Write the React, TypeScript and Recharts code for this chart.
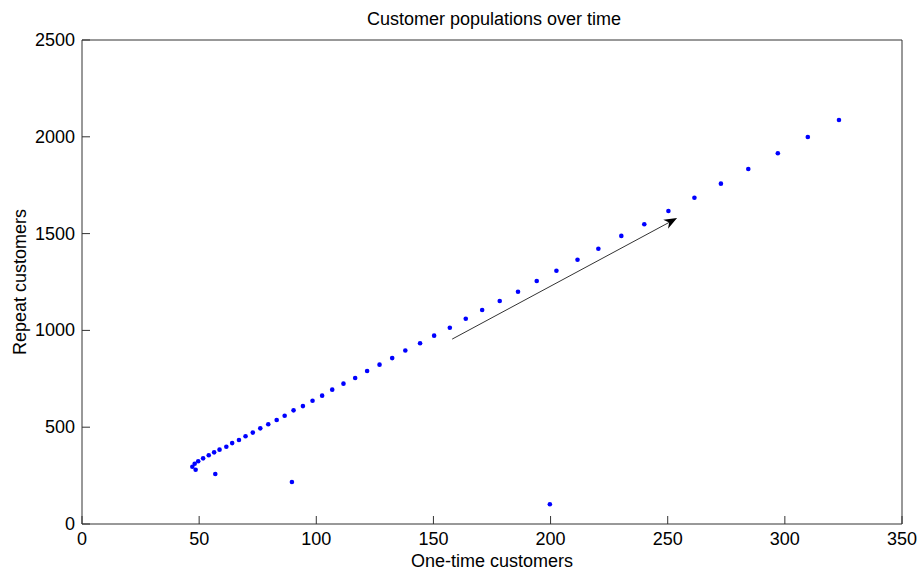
import React from 'react';
import { ScatterChart, Scatter, XAxis, YAxis, ReferenceLine } from 'recharts';

// one-time customers (x) and repeat customers (y)
const oneTime = [
    47.1, 48.1, 48.5, 49.6, 51.7, 54.1, 56.4, 58.7, 61.6, 64.1,
    67.0, 69.8, 72.9, 76.1, 79.5, 83.1, 86.5, 90.3, 94.3, 98.4,
    102.5, 106.8, 111.6, 116.6, 121.7, 127.0, 132.4, 138.0, 144.3, 150.3,
    157.0, 163.8, 170.8, 178.3, 186.1, 194.1, 202.5, 211.5, 220.4, 230.2,
    240.0, 250.3, 261.4, 272.7, 284.4, 297.0, 309.8, 323.1,
    56.9, 89.6, 199.7,
];
const repeat = [
    296, 311, 280, 324, 339, 355, 370, 384, 399, 418,
    434, 453, 472, 494, 515, 537, 559, 587, 609, 637,
    663, 694, 725, 754, 790, 823, 857, 896, 934, 973,
    1014, 1060, 1105, 1152, 1200, 1255, 1308, 1365, 1422, 1488,
    1548, 1617, 1685, 1758, 1834, 1915, 1999, 2087,
    258, 217, 102,
];
const xTicks = [0, 50, 100, 150, 200, 250, 300, 350];
const yTicks = [0, 500, 1000, 1500, 2000, 2500];
const arrowFrom = { x: 158, y: 955 };
const arrowTo = { x: 254, y: 1580 };

const points = oneTime.map((x, i) => ({ x, y: repeat[i] }));

const FONT = '"Liberation Sans", Arial, Helvetica, sans-serif';
const AXIS = '#333';
const TICK = 8;
const FS = 18;

const BottomTick = ({ x, y, payload }: any) => (
    <g>
        <line x1={x} y1={y} x2={x} y2={y - TICK} stroke={AXIS} />
        <text x={x} y={y + 21} textAnchor="middle" fontSize={FS} fontFamily={FONT} fill="#000">
            {payload.value}
        </text>
    </g>
);
const TopTick = ({ x, y }: any) => <line x1={x} y1={y} x2={x} y2={y + TICK} stroke={AXIS} />;
const LeftTick = ({ x, y, payload }: any) => (
    <g>
        <line x1={x} y1={y} x2={x + TICK} y2={y} stroke={AXIS} />
        <text x={x - 7} y={y + 6} textAnchor="end" fontSize={FS} fontFamily={FONT} fill="#000">
            {payload.value}
        </text>
    </g>
);
const RightTick = ({ x, y }: any) => <line x1={x} y1={y} x2={x - TICK} y2={y} stroke={AXIS} />;

const Arrow = (props: any) => {
    const { x1, y1, x2, y2 } = props;
    const ang = Math.atan2(y2 - y1, x2 - x1);
    const len = 13;
    const half = 5;
    const bx = x2 - len * Math.cos(ang);
    const by = y2 - len * Math.sin(ang);
    const nx = -Math.sin(ang) * half;
    const ny = Math.cos(ang) * half;
    const notch = 4;
    const mx = x2 - (len - notch) * Math.cos(ang);
    const my = y2 - (len - notch) * Math.sin(ang);
    return (
        <g>
            <line x1={x1} y1={y1} x2={mx} y2={my} stroke="#333" strokeWidth={1} />
            <polygon points={`${x2},${y2} ${bx + nx},${by + ny} ${mx},${my} ${bx - nx},${by - ny}`} fill="#000" />
        </g>
    );
};

const Dot = ({ cx, cy }: any) => <circle cx={cx} cy={cy} r={2.3} fill="#0000ff" />;

export default function App() {
    return (
        <div style={{ position: 'absolute', left: 0, top: 0, background: '#fff' }}>
            <ScatterChart width={921} height={571} margin={{ top: 0, right: 0, bottom: 0, left: 0 }}>
                <XAxis
                    xAxisId="b"
                    type="number"
                    dataKey="x"
                    domain={[0, 350]}
                    ticks={xTicks}
                    height={47}
                    tickSize={0}
                    tickMargin={0}
                    tickLine={false}
                    axisLine={{ stroke: AXIS }}
                    tick={<BottomTick />}
                    label={{
                        content: ({ viewBox }: any) => (
                            <text x={viewBox.x + viewBox.width / 2} y={viewBox.y + 43} textAnchor="middle" fontSize={FS} fontFamily={FONT} fill="#000">
                                One-time customers
                            </text>
                        ),
                    }}
                />
                <XAxis
                    xAxisId="t"
                    orientation="top"
                    type="number"
                    domain={[0, 350]}
                    ticks={xTicks}
                    height={40}
                    tickSize={0}
                    tickMargin={0}
                    tickLine={false}
                    axisLine={{ stroke: AXIS }}
                    tick={<TopTick />}
                    label={{
                        content: ({ viewBox }: any) => (
                            <text x={viewBox.x + viewBox.width / 2 + 2} y={25} textAnchor="middle" fontSize={FS} fontFamily={FONT} fill="#000">
                                Customer populations over time
                            </text>
                        ),
                    }}
                />
                <YAxis
                    yAxisId="l"
                    type="number"
                    dataKey="y"
                    domain={[0, 2500]}
                    ticks={yTicks}
                    width={82}
                    tickSize={0}
                    tickMargin={0}
                    tickLine={false}
                    axisLine={{ stroke: AXIS }}
                    tick={<LeftTick />}
                    label={{
                        content: ({ viewBox }: any) => {
                            const cy = viewBox.y + viewBox.height / 2;
                            return (
                                <text x={26} y={cy} transform={`rotate(-90, 26, ${cy})`} textAnchor="middle" fontSize={FS} fontFamily={FONT} fill="#000">
                                    Repeat customers
                                </text>
                            );
                        },
                    }}
                />
                <YAxis
                    yAxisId="r"
                    orientation="right"
                    type="number"
                    domain={[0, 2500]}
                    ticks={yTicks}
                    width={19}
                    tickSize={0}
                    tickMargin={0}
                    tickLine={false}
                    axisLine={{ stroke: AXIS }}
                    tick={<RightTick />}
                />
                <Scatter
                    data={points}
                    xAxisId="b"
                    yAxisId="l"
                    shape={<Dot />}
                    isAnimationActive={false}
                />
                <ReferenceLine
                    xAxisId="b"
                    yAxisId="l"
                    segment={[arrowFrom, arrowTo]}
                    shape={(p: any) => <Arrow {...p} />}
                />
            </ScatterChart>
        </div>
    );
}
